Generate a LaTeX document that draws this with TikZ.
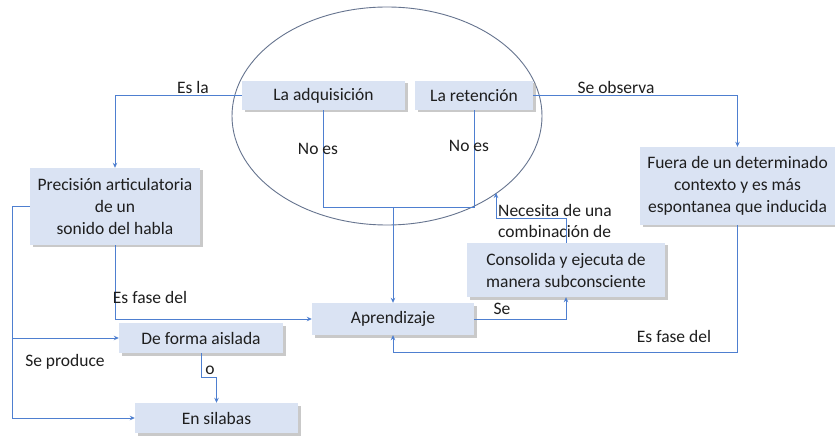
\documentclass[tikz,border=0pt]{standalone}
\usepackage{fontspec}
\setmainfont{Carlito}
\usetikzlibrary{shadows,arrows.meta}
\definecolor{boxfill}{HTML}{DAE3F3}
\definecolor{linec}{HTML}{4E7FD0}
\definecolor{ellc}{HTML}{66748F}
\definecolor{txt}{HTML}{1E1E1E}
\tikzset{
  box/.style={rectangle, fill=boxfill, inner sep=0pt, align=center, text=txt,
    font=\fontsize{17.5}{22}\selectfont,
    drop shadow={shadow xshift=2.5pt, shadow yshift=-2.5pt, fill=black!35, opacity=0.6}},
  lbl/.style={inner sep=0pt, text=txt, font=\fontsize{17.5}{21}\selectfont},
  conn/.style={draw=linec, line width=0.8pt, -{Stealth[length=5pt,width=4.5pt]}},
  plain/.style={draw=linec, line width=0.8pt}
}
\begin{document}
\begin{tikzpicture}[x=1pt,y=-1pt]
\useasboundingbox (0,0) rectangle (835,438);
\fill[white] (0,0) rectangle (835,438);
% ellipse
\draw[ellc, line width=0.9pt] (387,116) ellipse [x radius=155, y radius=109];
% boxes
\node[box, minimum width=163pt, minimum height=29pt] (adq) at (323.5,95.5) {La adquisición};
\node[box, minimum width=118pt, minimum height=29pt] (ret) at (474,95.5) {La retención};
\node[box, minimum width=170pt, minimum height=77pt] (prec) at (115,206.5) {Precisión articulatoria\\de un\\sonido del habla};
\node[box, minimum width=195pt, minimum height=78pt] (fuera) at (737.5,186) {Fuera de un determinado\\contexto y es más\\espontanea que inducida};
\node[box, minimum width=198pt, minimum height=54pt] (cons) at (566,270) {Consolida y ejecuta de\\manera subconsciente};
\node[box, minimum width=162pt, minimum height=32pt] (apr) at (393,319) {Aprendizaje};
\node[box, minimum width=164pt, minimum height=30pt] (dfa) at (201,338) {De forma aislada};
\node[box, minimum width=163pt, minimum height=30pt] (sil) at (216.5,418) {En silabas};
% coordinates
\coordinate (j) at (393,207);
\coordinate (nk) at (496,218);
\coordinate (n1) at (496,193);
\coordinate (fb) at (393,352);
\coordinate (lx) at (12,206.5);
\coordinate (o1) at (201,377);
\coordinate (o2) at (216.5,377);
% connectors
\draw[conn] (adq.west) -| (prec.north);
\draw[conn] (ret.east) -| (fuera.north);
\draw[plain] (adq.south) |- (j);
\draw[plain] (ret.south) |- (j);
\draw[conn] (j) -- (apr.north);
\draw[conn] (cons.north) |- (nk) -- (n1);
\draw[conn] (apr.east) -| (cons.south);
\draw[conn] (fuera.south) |- (fb) -- (apr.south);
\draw[conn] (prec.south) |- (apr.west);
\draw[conn] (prec.west) -- (lx) |- (sil.west);
\draw[conn] (lx |- dfa.west) -- (dfa.west);
\draw[conn] (dfa.south) -- (o1) -- (o2) -- (sil.north);
% labels
\node[lbl] (l1) at (193,87) {Es la};
\node[lbl] (l2) at (616,87) {Se observa};
\node[lbl] (l3) at (318,149) {No es};
\node[lbl] (l4) at (469,146) {No es};
\node[lbl, align=left, anchor=north west] (l5) at (498,204) {Necesita de una\\combinación de};
\node[lbl] (l6) at (502,309) {Se};
\node[lbl] (l7) at (674,336) {Es fase del};
\node[lbl] (l8) at (150,297) {Es fase del};
\node[lbl] (l9) at (65,362) {Se produce};
\node[lbl] (l10) at (210,370) {o};
\end{tikzpicture}
\end{document}
